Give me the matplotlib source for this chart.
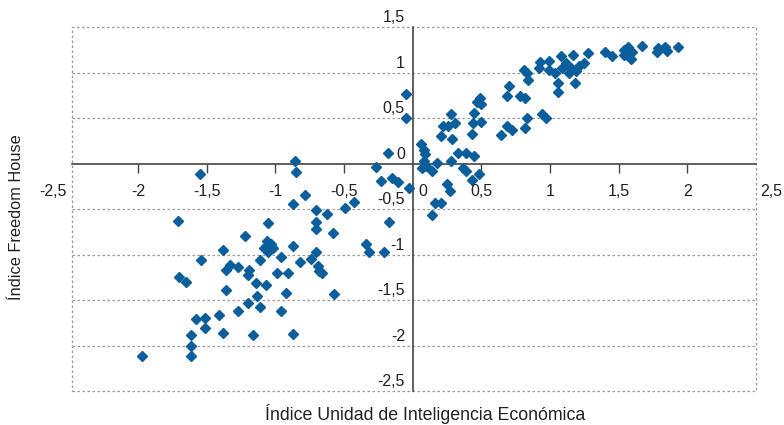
import matplotlib
matplotlib.use("Agg")
import matplotlib.pyplot as plt
from matplotlib.transforms import offset_copy
from matplotlib.patches import Rectangle

plt.rcParams['font.family'] = ['Liberation Sans', 'DejaVu Sans']

x_vals = [
    -0.05, -0.05, -0.18, -0.86, -0.85, -1.55, -0.78, -0.27, -0.23, -0.15, -0.11, -0.03,
    -0.43, -0.49, -0.87, -0.70, -0.62, -0.70, -0.70, -0.58, -0.17, -0.34, -0.32, -0.21,
    -0.70, -0.74, -0.82, -0.87, -1.05, -1.06, -1.03, -1.08, -1.02, -1.05, -0.96, -1.11,
    -1.22, -1.38, -1.54, -1.71, -1.33, -1.36, -1.27, -1.19, -1.20, -0.99, -0.91, -0.69,
    -0.68, -0.66, -1.70, -1.65, -1.14, -1.07, -1.36, -0.92, -0.57, -1.13, -1.20, -1.11,
    -1.27, -0.96, -1.41, -1.58, -1.51, -1.51, -1.38, -1.16, -0.87, -1.61, -1.61, -1.61,
    -1.97,
    0.06, 0.08, 0.09, 0.08, 0.07, 0.10, 0.14, 0.18, 0.28, 0.33, 0.39, 0.45, 0.37, 0.39,
    0.43, 0.48, 0.25, 0.27, 0.16, 0.21, 0.14,
    0.21, 0.22, 0.28, 0.31, 0.26, 0.29, 0.43, 0.45, 0.44, 0.50, 0.49, 0.50, 0.47, 0.64,
    0.69, 0.72, 0.69, 0.70, 0.78, 0.82, 0.82, 0.83, 0.94, 0.97, 0.81, 0.83, 0.84, 0.92,
    0.93, 0.99, 0.99, 1.04, 1.06, 1.06, 1.08, 1.09, 1.12, 1.14, 1.15, 1.17, 1.18, 1.21,
    1.25, 1.19, 1.28, 1.40, 1.45, 1.54, 1.57, 1.54, 1.59, 1.60, 1.67, 1.79, 1.78, 1.84,
    1.85, 1.93,
]
y_vals = [
    0.76, 0.50, 0.12, 0.03, -0.09, -0.11, -0.35, -0.04, -0.19, -0.16, -0.20, -0.27,
    -0.42, -0.49, -0.45, -0.51, -0.56, -0.64, -0.72, -0.76, -0.64, -0.88, -0.97, -0.97,
    -0.97, -1.05, -1.08, -0.91, -0.65, -0.85, -0.89, -0.93, -0.93, -0.97, -1.03, -1.06,
    -0.80, -0.95, -1.06, -0.63, -1.12, -1.17, -1.14, -1.17, -1.23, -1.20, -1.20, -1.13,
    -1.18, -1.20, -1.25, -1.30, -1.31, -1.33, -1.39, -1.42, -1.43, -1.46, -1.53, -1.58,
    -1.62, -1.62, -1.66, -1.71, -1.70, -1.81, -1.86, -1.88, -1.87, -1.88, -2.01, -2.12,
    -2.12,
    0.21, 0.15, 0.10, 0.03, -0.05, -0.03, -0.08, 0.01, 0.03, 0.12, 0.12, 0.08, -0.05, -0.08,
    -0.18, -0.12, -0.23, -0.30, -0.43, -0.43, -0.57,
    0.30, 0.41, 0.54, 0.45, 0.41, 0.27, 0.32, 0.56, 0.45, 0.46, 0.72, 0.65, 0.68, 0.31,
    0.41, 0.37, 0.74, 0.85, 0.74, 0.72, 0.39, 0.50, 0.54, 0.50, 1.03, 0.99, 0.92, 1.05,
    1.11, 1.13, 1.03, 0.99, 0.88, 0.79, 1.18, 1.05, 1.10, 0.99, 1.05, 1.19, 0.88, 1.07,
    1.10, 1.02, 1.21, 1.22, 1.18, 1.25, 1.28, 1.19, 1.15, 1.22, 1.29, 1.27, 1.22, 1.28,
    1.24, 1.28,
]

x_ticks = [-2.5, -2, -1.5, -1, -0.5, 0, 0.5, 1, 1.5, 2, 2.5]
x_tick_labels = ["-2,5", "-2", "-1,5", "-1", "-0,5", "0", "0,5", "1", "1,5", "2", "2,5"]
y_ticks = [1.5, 1, 0.5, 0, -0.5, -1, -1.5, -2, -2.5]
y_tick_labels = ["1,5", "1", "0,5", "0", "-0,5", "-1", "-1,5", "-2", "-2,5"]

x_title = "Índice Unidad de Inteligencia Económica"
y_title = "Índice Freedom House"

fig = plt.figure(figsize=(7.84, 4.25), dpi=100)
ax = fig.add_axes([72/784, 1-391/425, (756-72)/784, (391-27)/425])
ax.set_xlim(-2.48, 2.5)
ax.set_ylim(-2.5, 1.5)

grid_c = "#9a9a9a"
for yv in y_ticks:
    if yv not in (0, 1.5, -2.5):
        ax.axhline(yv, color=grid_c, lw=0.9, ls=(0, (2, 2)), zorder=1)

# dotted frame
ax.add_patch(Rectangle((0, 0), 1, 1, transform=ax.transAxes, fill=False,
                       edgecolor=grid_c, lw=0.9, ls=(0, (2, 2)), zorder=1, clip_on=False))
for s in ['top', 'right']:
    ax.spines[s].set_visible(False)
ax.spines['left'].set_position(('data', 0))
ax.spines['bottom'].set_position(('data', 0))
for s in ['left', 'bottom']:
    ax.spines[s].set_color('#444444')
    ax.spines[s].set_linewidth(1.2)
    ax.spines[s].set_zorder(2)

ax.set_xticks([t for t in x_ticks if -2.48 <= t <= 2.5 and t not in (0, 2.5)])
ax.set_xticklabels([])
ax.tick_params(axis='x', direction='out', length=6.5, width=1, color='#444444')
ax.set_yticks([])

ax.plot(x_vals, y_vals, ls='none', marker='D', ms=5.2, color='#0a5e9c', zorder=3,
        clip_on=False)

fs = 11.5
tcol = '#222222'
for xv, lab in zip(x_ticks, x_tick_labels):
    dx = 0
    if xv == -2.5:
        dx = -12
    elif xv == 2.5:
        dx = 11
    elif xv == 0:
        dx = 7.5
    tr = offset_copy(ax.transData, fig=fig, x=dx, y=-20, units='points')
    ax.text(xv, 0, lab, transform=tr, ha='center', va='center', fontsize=fs, color=tcol,
            clip_on=False)

for yv, lab in zip(y_ticks, y_tick_labels):
    tr = offset_copy(ax.transData, fig=fig, x=-5.5, y=6.5, units='points')
    ax.text(0, yv, lab, transform=tr, ha='right', va='center', fontsize=fs, color=tcol,
            clip_on=False)

fig.text(425/784, 1-414/425, x_title, ha='center', va='center', fontsize=12.8, color=tcol)
fig.text(17/784, 1-217/425, y_title, ha='center', va='center', fontsize=11.8, color=tcol,
         rotation=90)

fig.savefig("out.png", dpi=100)
